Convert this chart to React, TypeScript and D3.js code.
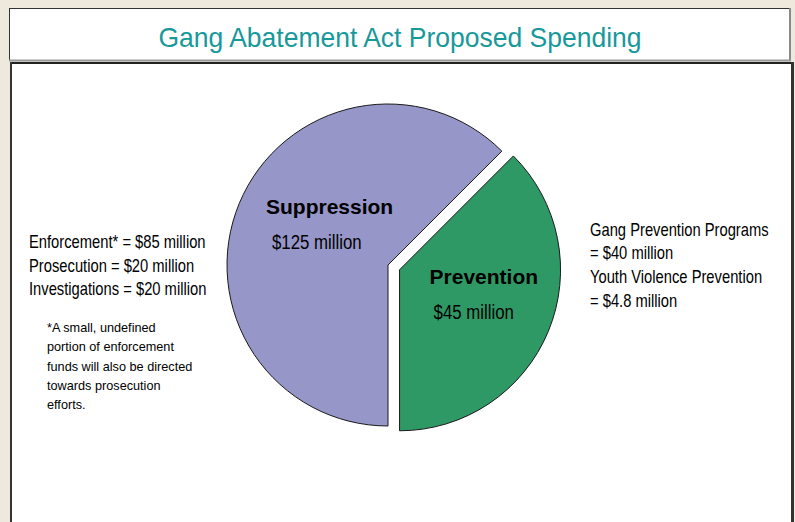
import React from "react";
import * as d3 from "d3";

const title = "Gang Abatement Act Proposed Spending";
const categories = ["Prevention", "Suppression"];
const amountLabels = ["$45 million", "$125 million"];
// share of the circle as drawn in the picture (percent)
const sliceShares = [37.5, 62.5];
const sliceColors = ["#2f9966", "#9696c8"];
const exploded = [true, false];

const leftLines = ["Enforcement* = $85 million", "Prosecution = $20 million", "Investigations = $20 million"];
const footnoteLines = [
  "*A small, undefined",
  "portion of enforcement",
  "funds will also be directed",
  "towards prosecution",
  "efforts.",
];
const rightLines = ["Gang Prevention Programs", "= $40 million", "Youth Violence Prevention", "= $4.8 million"];

const W = 795;
const H = 522;
const SANS = "'Liberation Sans', Arial, Helvetica, sans-serif";
const NARROW_SCALE = 0.82;

function NarrowText(props: { x: number; y: number; size: number; children: React.ReactNode }) {
  return (
    <text
      transform={`translate(${props.x},${props.y}) scale(${NARROW_SCALE},1)`}
      fontFamily={SANS}
      fontSize={props.size}
      fill="#000"
    >
      {props.children}
    </text>
  );
}

export default function App() {
  const cx = 388;
  const cy = 265;
  const r = 161;
  const explode = 12.5;

  const pie = d3
    .pie<number>()
    .sort(null)
    .value((d) => d)
    .startAngle(Math.PI / 4)
    .endAngle(Math.PI / 4 + 2 * Math.PI);
  const arcs = pie(sliceShares);
  const arcGen = d3.arc<d3.PieArcDatum<number>>().innerRadius(0).outerRadius(r);

  // label offsets relative to each slice's (possibly exploded) center
  const nameOffsets = [
    [30, 14],
    [-122, -51],
  ];
  const valueOffsets = [
    [34, 49],
    [-116, -16],
  ];

  return (
    <svg
      width={W}
      height={H}
      style={{ position: "absolute", left: 0, top: 0, display: "block" }}
    >
      <rect x={0} y={0} width={W} height={H} fill="#efe8dd" />
      {/* title box */}
      <rect x={9} y={8} width={782} height={53} fill="#ffffff" />
      <line x1={9} y1={8.5} x2={791} y2={8.5} stroke="#333" strokeWidth={1} />
      <line x1={9.5} y1={8} x2={9.5} y2={61} stroke="#333" strokeWidth={1} />
      <line x1={790} y1={8} x2={790} y2={61} stroke="#8a8a8a" strokeWidth={2} />
      <line x1={9} y1={60.5} x2={791} y2={60.5} stroke="#9a9a9a" strokeWidth={2} />
      <text
        x={400}
        y={46.5}
        textAnchor="middle"
        fill="#17999b"
        fontFamily={SANS}
        fontSize={28}
        textLength={483}
        lengthAdjust="spacingAndGlyphs"
      >
        {title}
      </text>

      {/* main box */}
      <rect x={10} y={62} width={783} height={H} fill="#ffffff" />
      <line x1={10} y1={63} x2={793} y2={63} stroke="#222" strokeWidth={2} />
      <line x1={11} y1={62} x2={11} y2={H} stroke="#333" strokeWidth={2} />
      <line x1={792.5} y1={62} x2={792.5} y2={H} stroke="#333" strokeWidth={3} />

      {/* pie */}
      {arcs.map((a, i) => {
        const mid = (a.startAngle + a.endAngle) / 2;
        const dx = exploded[i] ? Math.sin(mid) * explode : 0;
        const dy = exploded[i] ? -Math.cos(mid) * explode : 0;
        const ox = cx + dx;
        const oy = cy + dy;
        return (
          <g key={categories[i]}>
            <path
              d={arcGen(a) || ""}
              transform={`translate(${ox},${oy})`}
              fill={sliceColors[i]}
              stroke="#1a1a1a"
              strokeWidth={1}
              strokeLinejoin="miter"
            />
            <text
              x={ox + nameOffsets[i][0]}
              y={oy + nameOffsets[i][1]}
              fontFamily={SANS}
              fontWeight="bold"
              fontSize={21}
              fill="#000"
            >
              {categories[i]}
            </text>
            <NarrowText x={ox + valueOffsets[i][0]} y={oy + valueOffsets[i][1]} size={20.5}>
              {amountLabels[i]}
            </NarrowText>
          </g>
        );
      })}

      {/* left annotations */}
      {leftLines.map((t, i) => (
        <NarrowText key={t} x={29} y={248.3 + i * 23.4} size={18}>
          {t}
        </NarrowText>
      ))}
      {footnoteLines.map((t, i) => (
        <text key={t} x={47} y={332 + i * 19.3} fontFamily={SANS} fontSize={12.7} fill="#000">
          {t}
        </text>
      ))}

      {/* right annotations */}
      {rightLines.map((t, i) => (
        <NarrowText key={t} x={590} y={235.7 + i * 23.7} size={18}>
          {t}
        </NarrowText>
      ))}
    </svg>
  );
}
